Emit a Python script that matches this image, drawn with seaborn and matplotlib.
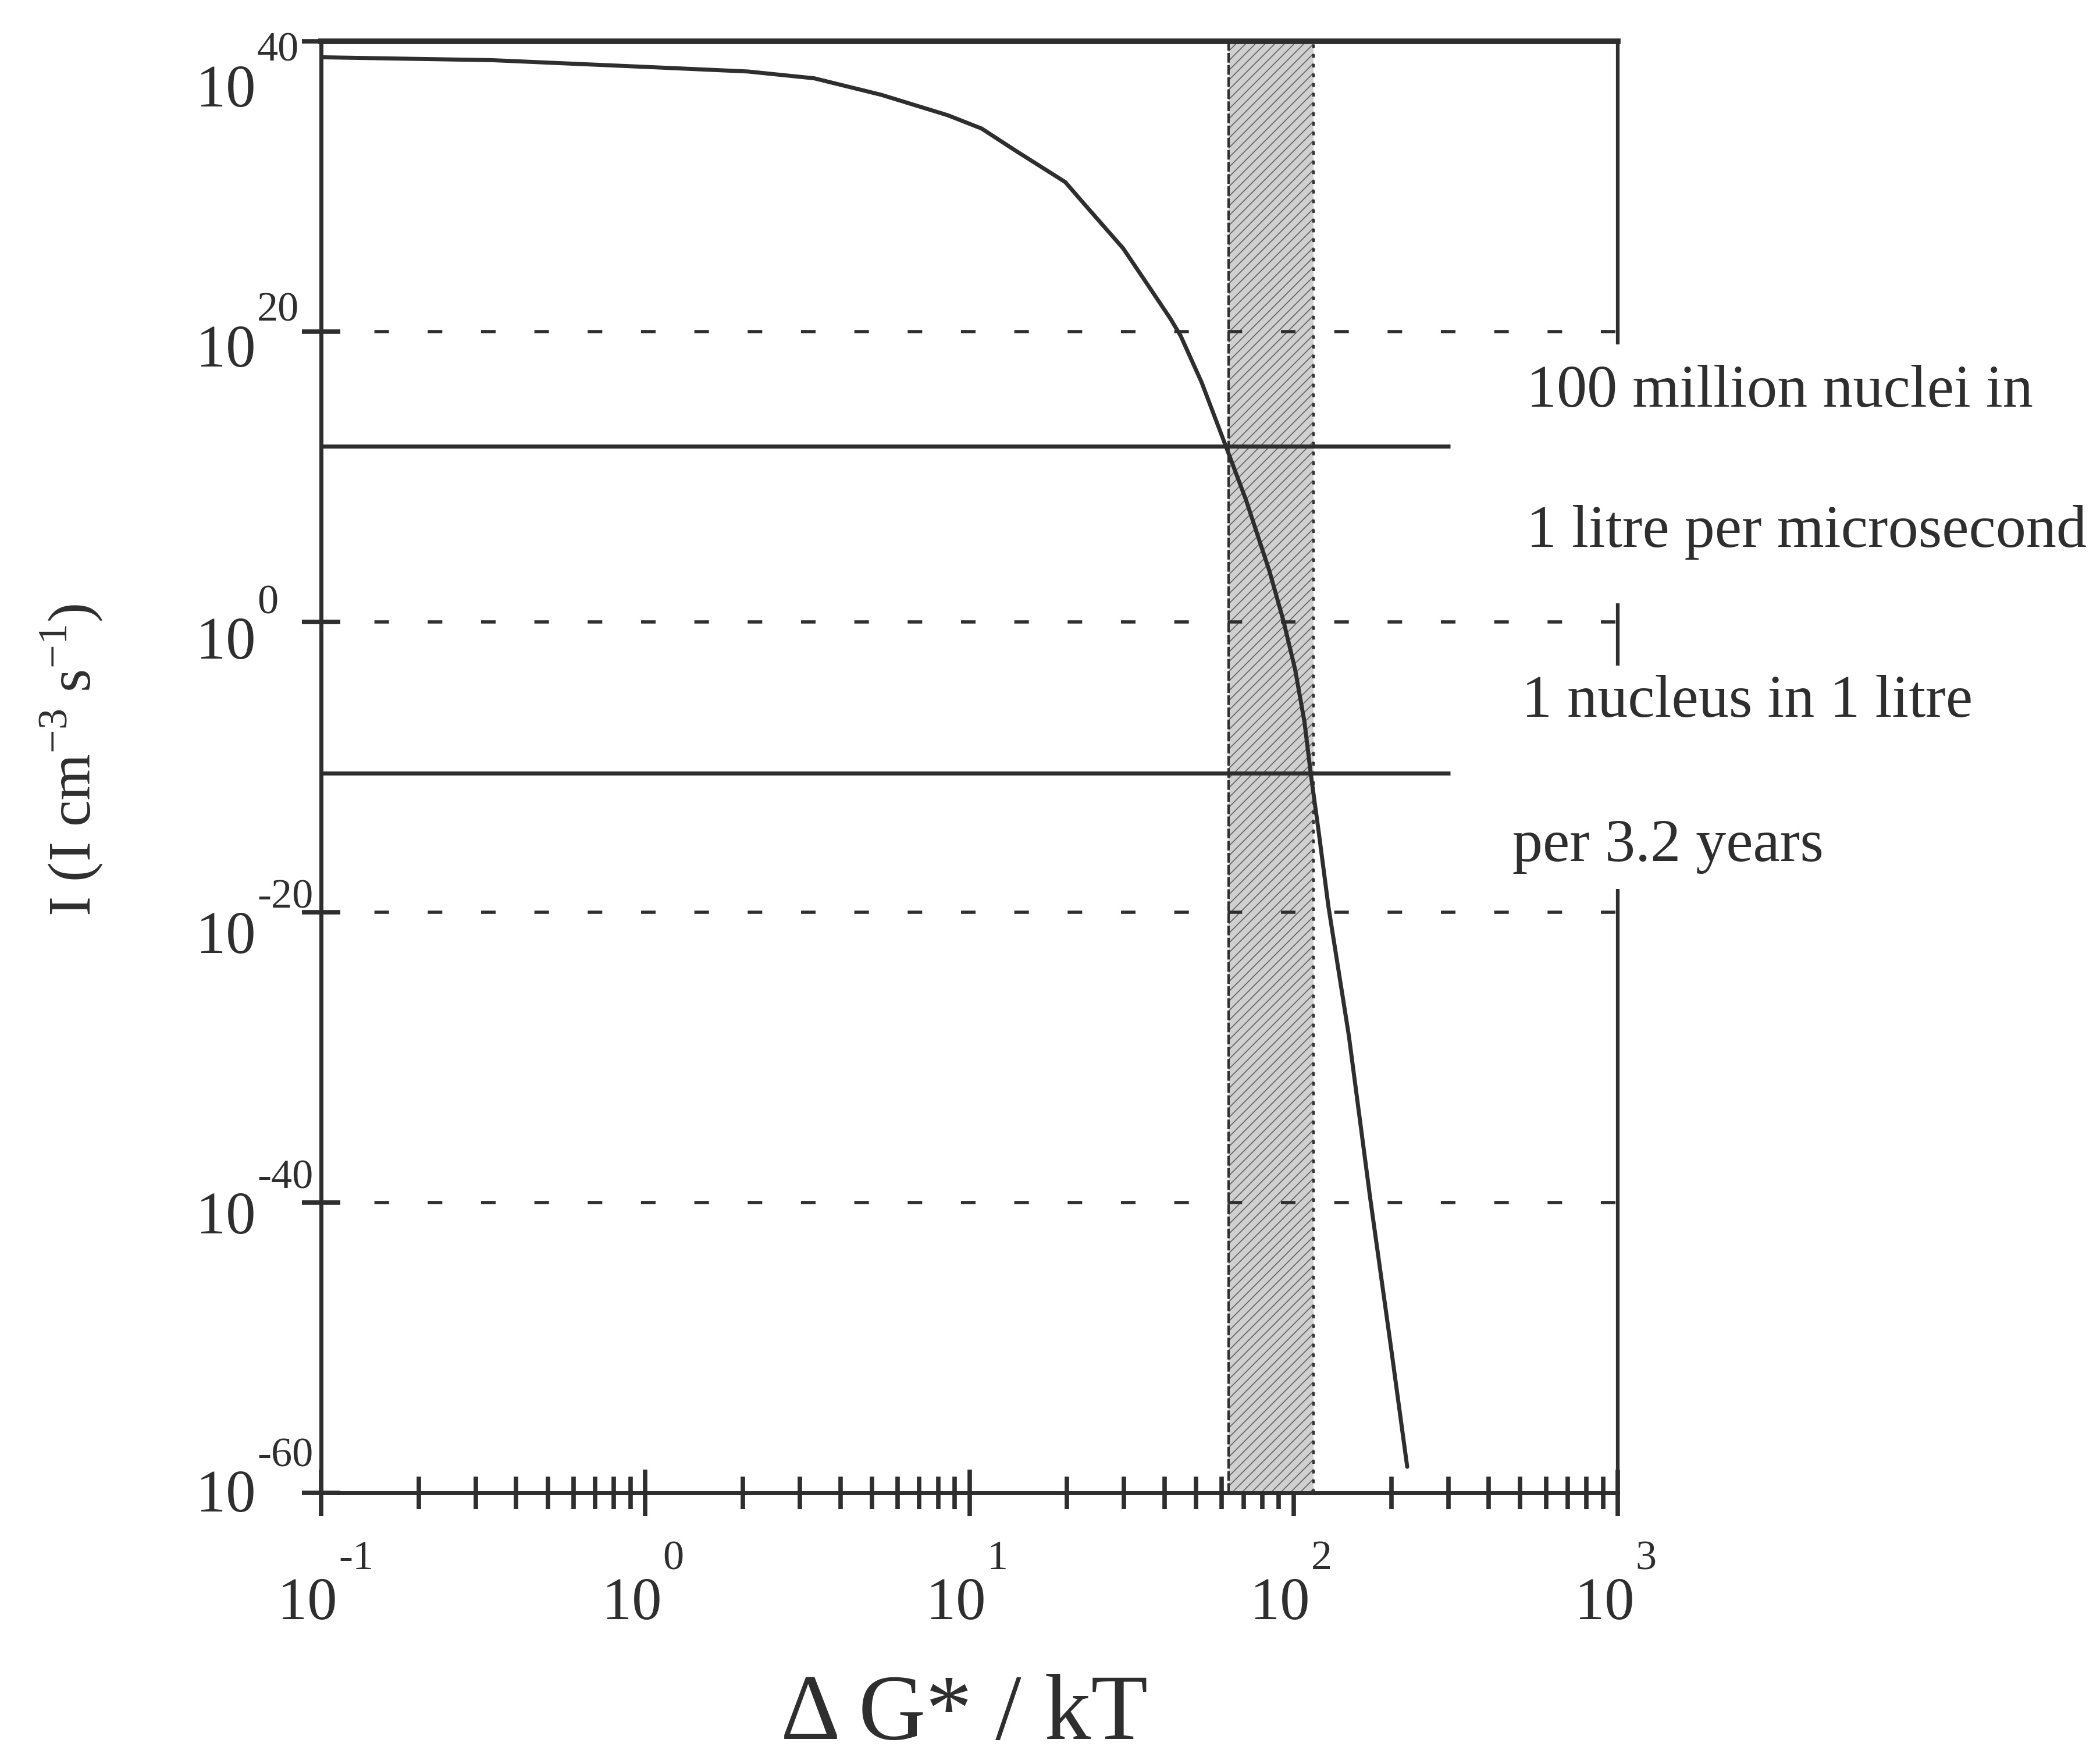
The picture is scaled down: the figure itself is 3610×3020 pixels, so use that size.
import numpy as np
import seaborn as sns
from matplotlib import pyplot as plt
from matplotlib.ticker import LogLocator, NullLocator, NullFormatter

# nucleation rate curve: dG*/kT and log10(I)
dg = [0.100, 0.336, 0.97, 2.07, 3.32, 5.35, 8.56, 10.9, 13.8, 19.75, 22.3, 29.8,
      36.1, 41.7, 44.8, 52.0, 61.7, 71.3, 84.2, 92.9, 101, 108, 113, 119.7, 128,
      148, 172, 200, 224]
log_rate = [38.9, 38.7, 38.25, 37.92, 37.45, 36.31, 34.91, 33.99, 32.5, 30.3, 28.94, 25.73,
            22.97, 20.88, 19.72, 16.51, 12.14, 8.4, 3.5, 0.12, -3.25, -6.9, -10.5, -14.6, -19.6,
            -28.5, -39.6, -50.1, -58.2]

# solid reference levels (log10 I) and where they stop
ref_levels = [12.1, -10.4]
ref_end = 304

# dashed grid levels
grid_levels = [20, 0, -20, -40]

# hatched band of dG*/kT
band_lo, band_hi = 63, 115

# axis ticks
x_ticks = [0.1, 1, 10, 100, 1000]
x_exps = ['-1', '0', '1', '2', '3']
y_tick_exps = [40, 20, 0, -20, -40, -60]
y_exps = ['40', '20', '0', '-20', '-40', '-60']

# notes on the right
notes = ['100 million nuclei in', '1 litre per microsecond',
         '1 nucleus in 1 litre', 'per 3.2 years']
note_x = [523, 523, 506, 473]
note_logy = [14.83, 5.17, -6.53, -16.47]

# broken right frame line (log10 ranges)
frame_top = [40, 1.3, -18.4]
frame_bot = [19.1, -3.0, -60]

ink = '#2e2e2e'
px = 72 / 100  # points per pixel at dpi 100

sns.set_theme(style='white')
plt.rcParams['font.family'] = ['Liberation Serif', 'DejaVu Serif']
plt.rcParams['mathtext.fontset'] = 'custom'
plt.rcParams['mathtext.rm'] = 'Liberation Serif'
plt.rcParams['hatch.linewidth'] = 1.3

fig = plt.figure(figsize=(36.1, 30.2), dpi=100)
ax = fig.add_axes([0.1529, 0.1503, 0.6175, 0.8262])
ax.set_xscale('log')
ax.set_yscale('log')
ax.set_xlim(0.1, 1000)
ax.set_ylim(1e-60, 1e40)

# band
ax.axvspan(band_lo, band_hi, facecolor='#d0d0d0', edgecolor='#6a6a6a', hatch='//',
           linewidth=0, zorder=1)
ax.axvline(band_lo, color=ink, lw=3, ls=(0, (4, 1)), zorder=2)
ax.axvline(band_hi, color=ink, lw=3, ls=(0, (1.5, 2.5)), zorder=2)

# dashed levels
ax.hlines(10.0 ** np.array(grid_levels), 0.1, 1000, colors=ink, lw=4,
          linestyles=[(0, (4.5, 12))], zorder=3)
# solid levels
ax.hlines(10.0 ** np.array(ref_levels), 0.1, ref_end, colors=ink, lw=5, zorder=3)

# right frame pieces
ax.vlines([1000] * len(frame_top), 10.0 ** np.array(frame_bot), 10.0 ** np.array(frame_top),
          colors=ink, lw=4.5, clip_on=False, zorder=4)

sns.lineplot(x=dg, y=10.0 ** np.array(log_rate), ax=ax, color=ink, linewidth=5,
             estimator=None, sort=False, zorder=5)

# spines and ticks
ax.spines['right'].set_visible(False)
for s in ['left', 'bottom']:
    ax.spines[s].set_linewidth(5)
    ax.spines[s].set_color(ink)
ax.spines['top'].set_linewidth(7)
ax.spines['top'].set_color(ink)

ax.set_xticks(x_ticks)
ax.xaxis.set_minor_locator(LogLocator(base=10, subs=np.arange(2, 10), numticks=20))
ax.xaxis.set_minor_formatter(NullFormatter())
ax.set_yticks(10.0 ** np.array(y_tick_exps))
ax.yaxis.set_minor_locator(NullLocator())
ax.tick_params(which='both', bottom=True, left=True, top=False, right=False,
               labelbottom=False, labelleft=False)
ax.tick_params(axis='x', which='major', direction='inout', length=58, width=5.5, color=ink)
ax.tick_params(axis='x', which='minor', direction='inout', length=40, width=5.5, color=ink)
ax.tick_params(axis='y', which='major', direction='inout', length=47, width=5.5, color=ink)

# tick labels as 10 + raised exponent
for v, e in zip(x_ticks, x_exps):
    ax.annotate('10', xy=(v, 0), xycoords=ax.get_xaxis_transform(),
                xytext=(28 * px, -217 * px), textcoords='offset points',
                ha='right', va='baseline', fontsize=74, color=ink, annotation_clip=False)
    ax.annotate(e, xy=(v, 0), xycoords=ax.get_xaxis_transform(),
                xytext=(30 * px, -131 * px), textcoords='offset points',
                ha='left', va='baseline', fontsize=52, color=ink, annotation_clip=False)

y_drop = [112, 60, 63, 70, 53, 32]
for v, e, d in zip(y_tick_exps, y_exps, y_drop):
    ax.annotate('10', xy=(0, 10.0 ** v), xycoords=ax.get_yaxis_transform(),
                xytext=(-112 * px, -d * px), textcoords='offset points',
                ha='right', va='baseline', fontsize=74, color=ink, annotation_clip=False)
    ax.annotate(e, xy=(0, 10.0 ** v), xycoords=ax.get_yaxis_transform(),
                xytext=(-110 * px, (-d + 78) * px), textcoords='offset points',
                ha='left', va='baseline', fontsize=52, color=ink, annotation_clip=False)

for t, x, y in zip(notes, note_x, note_logy):
    ax.text(x, 10.0 ** y, t, ha='left', va='baseline', fontsize=75, color=ink,
            clip_on=False, zorder=6)

ax.text(0.496, -0.1695, 'Δ G* / kT', transform=ax.transAxes, ha='center',
        va='baseline', fontsize=115, color=ink)
ax.text(-0.178, 0.505, r'I (I cm$^{-3}$ s$^{-1}$)', transform=ax.transAxes,
        rotation=90, rotation_mode='anchor', ha='center', va='baseline',
        fontsize=74, color=ink)

fig.savefig('out.png', dpi=100, facecolor='white')
